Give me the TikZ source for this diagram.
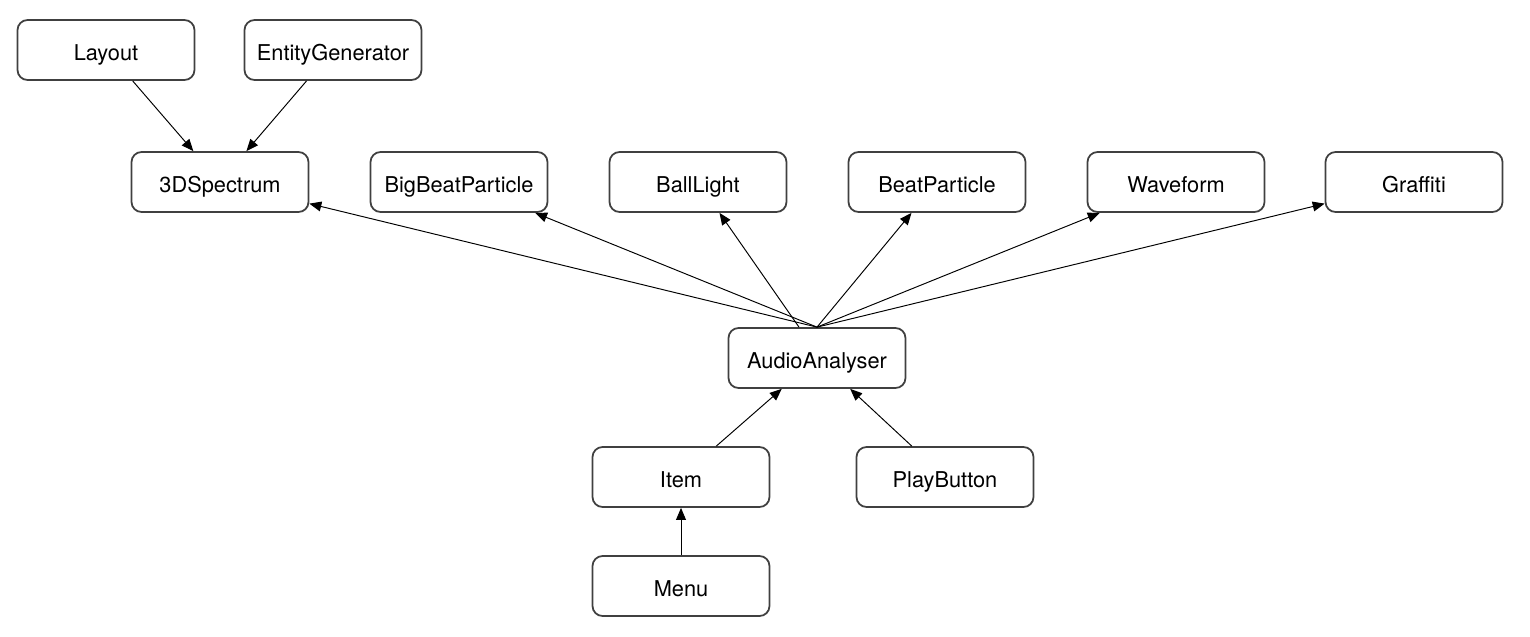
\documentclass[tikz,border=0pt]{standalone}
\usepackage{fontspec}
\setmainfont{TeX Gyre Heros}
\usetikzlibrary{arrows.meta}

\begin{document}
\begin{tikzpicture}[x=0.02cm,y=-0.02cm,
  box/.style={draw=black!75, line width=1pt, rounded corners=0.2cm,
    minimum width=3.54cm, minimum height=1.2cm, inner sep=0pt,
    text height=12pt, text depth=0.4pt,
    font=\fontsize{12.4}{14}\selectfont},
  dep/.style={-{Triangle[length=6.8pt,width=5.6pt]}, line width=0.55pt}]
  \useasboundingbox (0,0) rectangle (1530,636);

  \node[box] (layout) at (106,50) {Layout};
  \node[box] (entity) at (333,50) {EntityGenerator};

  \node[box] (spectrum) at (220,182) {3DSpectrum};
  \node[box] (bigbeat) at (459,182) {BigBeatParticle};
  \node[box] (ball) at (698,182) {BallLight};
  \node[box] (beat) at (937,182) {BeatParticle};
  \node[box] (wave) at (1176,182) {Waveform};
  \node[box] (graffiti) at (1414,182) {Graffiti};

  \node[box] (audio) at (817,358) {AudioAnalyser};
  \node[box] (item) at (681,477) {Item};
  \node[box] (play) at (945,477) {PlayButton};
  \node[box] (menu) at (681,586) {Menu};

  \draw[dep] (layout) -- (spectrum);
  \draw[dep] (entity) -- (spectrum);

  \foreach \n in {spectrum,bigbeat,beat,wave,graffiti} {
    \draw[dep] (audio.north) -- (\n);
  }
  \draw[dep] ([xshift=-0.36cm]audio.north) -- (ball);

  \draw[dep] (item) -- (audio);
  \draw[dep] (play) -- (audio);
  \draw[dep] (menu) -- (item);
\end{tikzpicture}
\end{document}
